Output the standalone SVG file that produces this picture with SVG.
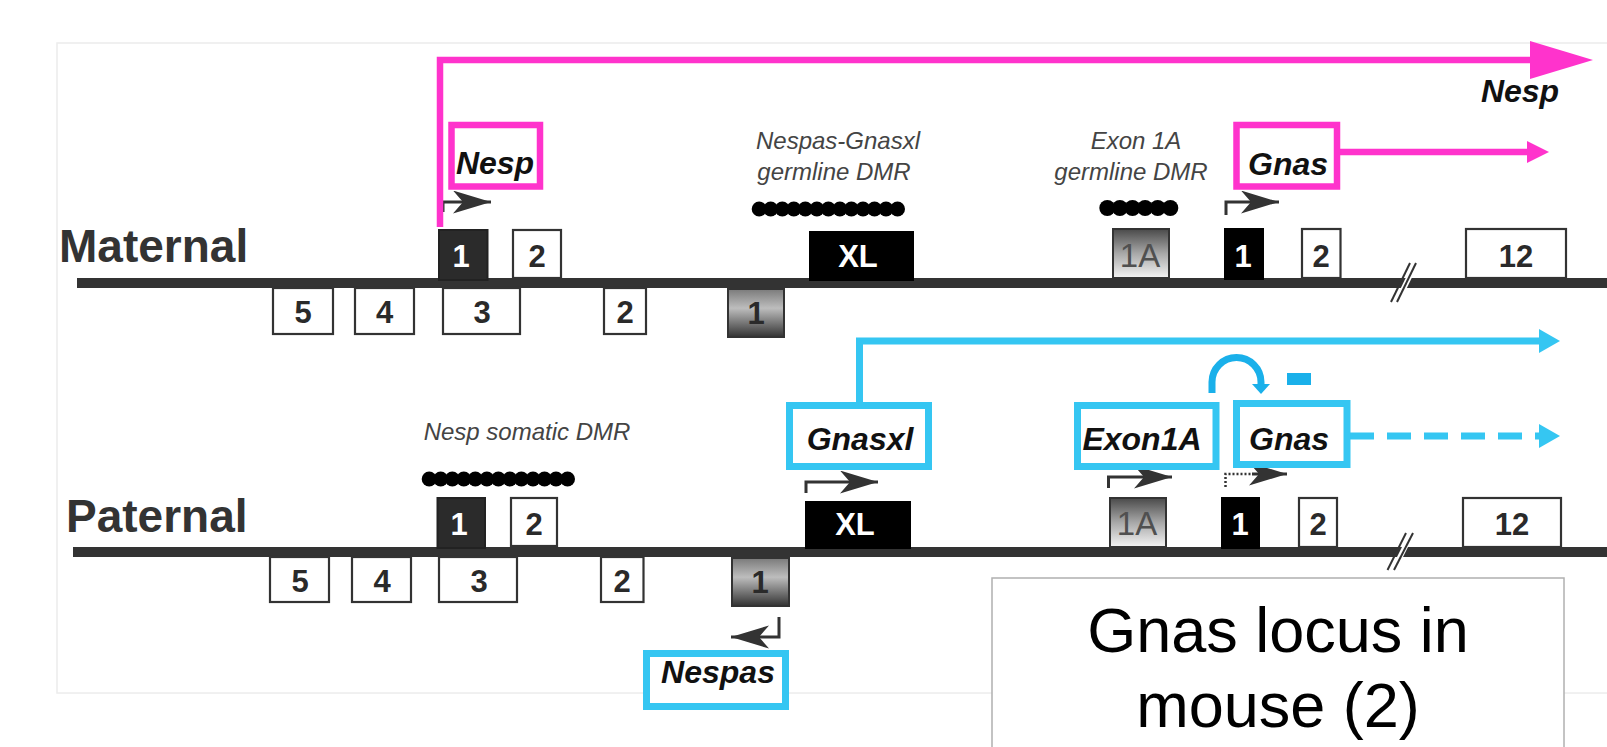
<svg xmlns="http://www.w3.org/2000/svg" width="1607" height="747" viewBox="0 0 1607 747">
<style>
  .bg{fill:#ffffff}
  .frame{fill:none;stroke:#ececec;stroke-width:1.5}
  .chrom{stroke:#333333;stroke-width:10;fill:none}
  .ex{fill:#ffffff;stroke:#333333;stroke-width:2.2}
  .exd{fill:#2b2b2b;stroke:#222222;stroke-width:2}
  .exb{fill:#000000;stroke:#000000;stroke-width:2}
  .exga{fill:url(#gA);stroke:#333333;stroke-width:2}
  .exgb{fill:url(#gB);stroke:#333333;stroke-width:2}
  .num{font-family:"Liberation Sans",Arial,sans-serif;font-weight:bold;font-size:31px;fill:#2a2a2a;text-anchor:middle}
  .numw{font-family:"Liberation Sans",Arial,sans-serif;font-weight:bold;font-size:31px;fill:#ffffff;text-anchor:middle}
  .num1a{font-family:"Liberation Sans",Arial,sans-serif;font-size:33px;fill:#505050;text-anchor:middle}
  .strand{font-family:"Liberation Sans",Arial,sans-serif;font-weight:bold;font-size:46px;fill:#333333}
  .dmr{font-family:"Liberation Sans",Arial,sans-serif;font-style:italic;font-size:24px;fill:#444444;text-anchor:middle}
  .gene{font-family:"Liberation Sans",Arial,sans-serif;font-style:italic;font-weight:bold;font-size:32px;fill:#111111;text-anchor:middle}
  .dot{fill:#000000}
  .mbox{fill:#ffffff;stroke:#ff33cc;stroke-width:6.5}
  .cbox{fill:#ffffff;stroke:#35c6f2;stroke-width:7}
  .mline{fill:none;stroke:#ff33cc;stroke-width:6.5}
  .cline{fill:none;stroke:#35c6f2;stroke-width:7}
  .prom{fill:none;stroke:#333333;stroke-width:3}
  .promd{fill:none;stroke:#333333;stroke-width:2.5;stroke-dasharray:2 2}
  .brk{stroke:#333333;stroke-width:2}
  .title{font-family:"Liberation Sans",Arial,sans-serif;font-size:63px;fill:#000000;text-anchor:middle}
</style>
<defs>
  <linearGradient id="gA" x1="0" y1="0" x2="0" y2="1">
    <stop offset="0" stop-color="#4a4a4a"/>
    <stop offset="0.5" stop-color="#a8a8a8"/>
    <stop offset="1" stop-color="#f4f4f4"/>
  </linearGradient>
  <linearGradient id="gB" x1="0" y1="0" x2="0" y2="1">
    <stop offset="0" stop-color="#7a7a7a"/>
    <stop offset="0.4" stop-color="#bdbdbd"/>
    <stop offset="1" stop-color="#333333"/>
  </linearGradient>
  <marker id="mBig" markerUnits="userSpaceOnUse" markerWidth="64" markerHeight="38" refX="0" refY="19" orient="auto">
    <path d="M0,0 L63,19 L0,38 z" fill="#ff33cc"/>
  </marker>
  <marker id="mSmall" markerUnits="userSpaceOnUse" markerWidth="23" markerHeight="23" refX="0" refY="11" orient="auto">
    <path d="M0,0 L22,11 L0,22 z" fill="#ff33cc"/>
  </marker>
  <marker id="cArr" markerUnits="userSpaceOnUse" markerWidth="22" markerHeight="25" refX="0" refY="12" orient="auto">
    <path d="M0,0 L21,12 L0,24 z" fill="#35c6f2"/>
  </marker>
  <marker id="cCurve" markerUnits="userSpaceOnUse" markerWidth="12" markerHeight="20" refX="0" refY="9" orient="auto">
    <path d="M0,0 L10,9 L0,18 z" fill="#1ab0ea"/>
  </marker>
  <marker id="pArr" markerUnits="userSpaceOnUse" markerWidth="40" markerHeight="24" refX="38" refY="11.5" orient="auto">
    <path d="M0,0 L38,11.5 L0,23 L10,11.5 z" fill="#333333"/>
  </marker>
</defs>

<rect class="bg" x="0" y="0" width="1607" height="747"/>
<rect class="frame" x="57" y="43" width="1560" height="650"/>

<!-- chromosomes -->
<g id="maternal-strand">
  <line class="chrom" x1="77" y1="283" x2="1607" y2="283"/>
  <text class="strand" x="59" y="262">Maternal</text>
  <polygon points="1394,302 1413,263 1419,263 1400,302" fill="#ffffff"/>
  <line class="brk" x1="1391" y1="302" x2="1410" y2="263"/>
  <line class="brk" x1="1397" y1="302" x2="1416" y2="263"/>
</g>
<g id="paternal-strand">
  <line class="chrom" x1="73" y1="552" x2="1607" y2="552"/>
  <text class="strand" x="66" y="532">Paternal</text>
  <polygon points="1390.5,570 1409,533 1415,533 1396.5,570" fill="#ffffff"/>
  <line class="brk" x1="1387.5" y1="570" x2="1406" y2="533"/>
  <line class="brk" x1="1394" y1="570" x2="1413" y2="533"/>
</g>

<!-- maternal exons -->
<g id="m-ex5"><rect class="ex" x="273" y="288" width="60" height="46"/><text class="num" x="303" y="323">5</text></g>
<g id="m-ex4"><rect class="ex" x="355" y="288" width="59" height="46"/><text class="num" x="384.5" y="323">4</text></g>
<g id="m-ex3"><rect class="ex" x="443" y="288" width="77" height="46"/><text class="num" x="482" y="323">3</text></g>
<g id="m-ex2b"><rect class="ex" x="604" y="288" width="42" height="46"/><text class="num" x="625" y="323">2</text></g>
<g id="m-nespas1"><rect class="exgb" x="728" y="289" width="56" height="48"/><text class="num" x="756" y="324">1</text></g>
<g id="m-nesp1"><rect class="exd" x="439" y="230" width="48.5" height="50"/><text class="numw" x="461" y="267">1</text></g>
<g id="m-nesp2"><rect class="ex" x="513" y="230" width="48" height="48"/><text class="num" x="537" y="267">2</text></g>
<g id="m-xl"><rect class="exb" x="810" y="232" width="103" height="48"/><text class="numw" x="858" y="267">XL</text></g>
<g id="m-1a"><rect class="exga" x="1113" y="229" width="56" height="49"/><text class="num1a" x="1140" y="267">1A</text></g>
<g id="m-gnas1"><rect class="exb" x="1225" y="229" width="38" height="50"/><text class="numw" x="1243" y="267">1</text></g>
<g id="m-gnas2"><rect class="ex" x="1302" y="229" width="38.5" height="49"/><text class="num" x="1321" y="267">2</text></g>
<g id="m-gnas12"><rect class="ex" x="1466" y="229" width="100" height="49"/><text class="num" x="1516" y="267">12</text></g>

<!-- paternal exons -->
<g id="p-ex5"><rect class="ex" x="270" y="557" width="59" height="45"/><text class="num" x="300" y="592">5</text></g>
<g id="p-ex4"><rect class="ex" x="352" y="557" width="59" height="45"/><text class="num" x="382" y="592">4</text></g>
<g id="p-ex3"><rect class="ex" x="439" y="557" width="78" height="45"/><text class="num" x="479" y="592">3</text></g>
<g id="p-ex2b"><rect class="ex" x="601" y="557" width="42.5" height="45"/><text class="num" x="622" y="592">2</text></g>
<g id="p-nespas1"><rect class="exgb" x="732" y="558" width="57" height="48"/><text class="num" x="760" y="593">1</text></g>
<g id="p-nesp1"><rect class="exd" x="437.5" y="498" width="47.5" height="50"/><text class="numw" x="459" y="535">1</text></g>
<g id="p-nesp2"><rect class="ex" x="511" y="498" width="46" height="48"/><text class="num" x="534" y="535">2</text></g>
<g id="p-xl"><rect class="exb" x="806" y="502" width="104" height="46"/><text class="numw" x="855" y="535">XL</text></g>
<g id="p-1a"><rect class="exga" x="1110" y="498" width="56" height="49"/><text class="num1a" x="1137" y="535">1A</text></g>
<g id="p-gnas1"><rect class="exb" x="1222" y="498" width="37" height="50"/><text class="numw" x="1240" y="535">1</text></g>
<g id="p-gnas2"><rect class="ex" x="1299" y="498" width="38" height="49"/><text class="num" x="1318" y="535">2</text></g>
<g id="p-gnas12"><rect class="ex" x="1463" y="498" width="98" height="49"/><text class="num" x="1512" y="535">12</text></g>

<!-- DMR labels and methylation dots -->
<g id="dmr-nespas-gnasxl">
  <text class="dmr" x="838" y="149">Nespas-Gnasxl</text>
  <text class="dmr" x="834" y="180">germline DMR</text>
  <circle class="dot" cx="759.2" cy="209" r="7.5"/><circle class="dot" cx="770.7" cy="209" r="7.5"/><circle class="dot" cx="782.3" cy="209" r="7.5"/><circle class="dot" cx="793.8" cy="209" r="7.5"/><circle class="dot" cx="805.3" cy="209" r="7.5"/><circle class="dot" cx="816.9" cy="209" r="7.5"/><circle class="dot" cx="828.4" cy="209" r="7.5"/><circle class="dot" cx="839.9" cy="209" r="7.5"/><circle class="dot" cx="851.4" cy="209" r="7.5"/><circle class="dot" cx="863" cy="209" r="7.5"/><circle class="dot" cx="874.5" cy="209" r="7.5"/><circle class="dot" cx="886" cy="209" r="7.5"/><circle class="dot" cx="897.5" cy="209" r="7.5"/>
</g>
<g id="dmr-exon1a">
  <text class="dmr" x="1136" y="149">Exon 1A</text>
  <text class="dmr" x="1131" y="180">germline DMR</text>
  <circle class="dot" cx="1107.3" cy="208" r="8"/><circle class="dot" cx="1119.9" cy="208" r="8"/><circle class="dot" cx="1132.5" cy="208" r="8"/><circle class="dot" cx="1145.1" cy="208" r="8"/><circle class="dot" cx="1157.7" cy="208" r="8"/><circle class="dot" cx="1170.3" cy="208" r="8"/>
</g>
<g id="dmr-nesp-somatic">
  <text class="dmr" x="527" y="440">Nesp somatic DMR</text>
  <circle class="dot" cx="429.2" cy="479" r="7.5"/><circle class="dot" cx="440.7" cy="479" r="7.5"/><circle class="dot" cx="452.3" cy="479" r="7.5"/><circle class="dot" cx="463.8" cy="479" r="7.5"/><circle class="dot" cx="475.3" cy="479" r="7.5"/><circle class="dot" cx="486.9" cy="479" r="7.5"/><circle class="dot" cx="498.4" cy="479" r="7.5"/><circle class="dot" cx="509.9" cy="479" r="7.5"/><circle class="dot" cx="521.4" cy="479" r="7.5"/><circle class="dot" cx="533" cy="479" r="7.5"/><circle class="dot" cx="544.5" cy="479" r="7.5"/><circle class="dot" cx="556" cy="479" r="7.5"/><circle class="dot" cx="567.5" cy="479" r="7.5"/>
</g>

<!-- connectors -->
<g id="connectors">
  <!-- promoter arrows -->
  <path class="prom" d="M443,212 V202 H491" marker-end="url(#pArr)"/>
  <path class="prom" d="M1226,215 V202 H1279" marker-end="url(#pArr)"/>
  <path class="prom" d="M806,493 V482 H878" marker-end="url(#pArr)"/>
  <path class="prom" d="M1108.5,488 V477 H1172" marker-end="url(#pArr)"/>
  <path class="promd" d="M1225.5,487 V474 H1252"/>
  <path class="prom" d="M1252,474 H1287" stroke-width="0" marker-end="url(#pArr)"/>
  <path class="prom" d="M779,617 V637 H731" marker-end="url(#pArr)"/>
  <!-- magenta maternal transcripts -->
  <path class="mline" d="M440,227 V60 H1530" marker-end="url(#mBig)"/>
  <path class="mline" d="M1340,152 H1527" marker-end="url(#mSmall)"/>
  <!-- cyan paternal transcripts -->
  <path class="cline" d="M859.5,402 V341 H1539" marker-end="url(#cArr)"/>
  <path class="cline" d="M1350,436 H1539" stroke-dasharray="24 13" marker-end="url(#cArr)"/>
  <!-- Exon1A represses Gnas -->
  <path d="M1212,393 V382 A24.5,24.5 0 0 1 1261,382 V384" fill="none" stroke="#1ab0ea" stroke-width="7" marker-end="url(#cCurve)"/>
  <rect x="1287" y="373" width="24" height="12" fill="#1ab0ea"/>
</g>

<!-- gene labels -->
<g id="label-nesp-top"><text class="gene" x="1520" y="102" font-size="31">Nesp</text></g>
<g id="label-nesp"><rect class="mbox" x="451.5" y="125" width="88.5" height="61.5"/><text class="gene" x="495" y="174">Nesp</text></g>
<g id="label-gnas-m"><rect class="mbox" x="1236.5" y="125" width="100.5" height="61.5"/><text class="gene" x="1288" y="175">Gnas</text></g>
<g id="label-gnasxl"><rect class="cbox" x="789.5" y="405.5" width="139" height="61"/><text class="gene" x="860" y="450" font-size="33">Gnasxl</text></g>
<g id="label-exon1a"><rect class="cbox" x="1077.5" y="405.5" width="138.5" height="61"/><text class="gene" x="1142" y="450" font-size="33">Exon1A</text></g>
<g id="label-gnas-p"><rect class="cbox" x="1236.5" y="403.5" width="110.5" height="61"/><text class="gene" x="1289" y="450" font-size="33">Gnas</text></g>
<g id="label-nespas"><rect class="cbox" x="646.5" y="653.5" width="139" height="53"/><text class="gene" x="718" y="683" font-size="33">Nespas</text></g>

<!-- title box -->
<g id="title">
  <rect x="992" y="578" width="572" height="190" fill="#ffffff" stroke="#b0b0b0" stroke-width="1.5"/>
  <text class="title" x="1278" y="652">Gnas locus in</text>
  <text class="title" x="1278" y="727">mouse (2)</text>
</g>
</svg>
